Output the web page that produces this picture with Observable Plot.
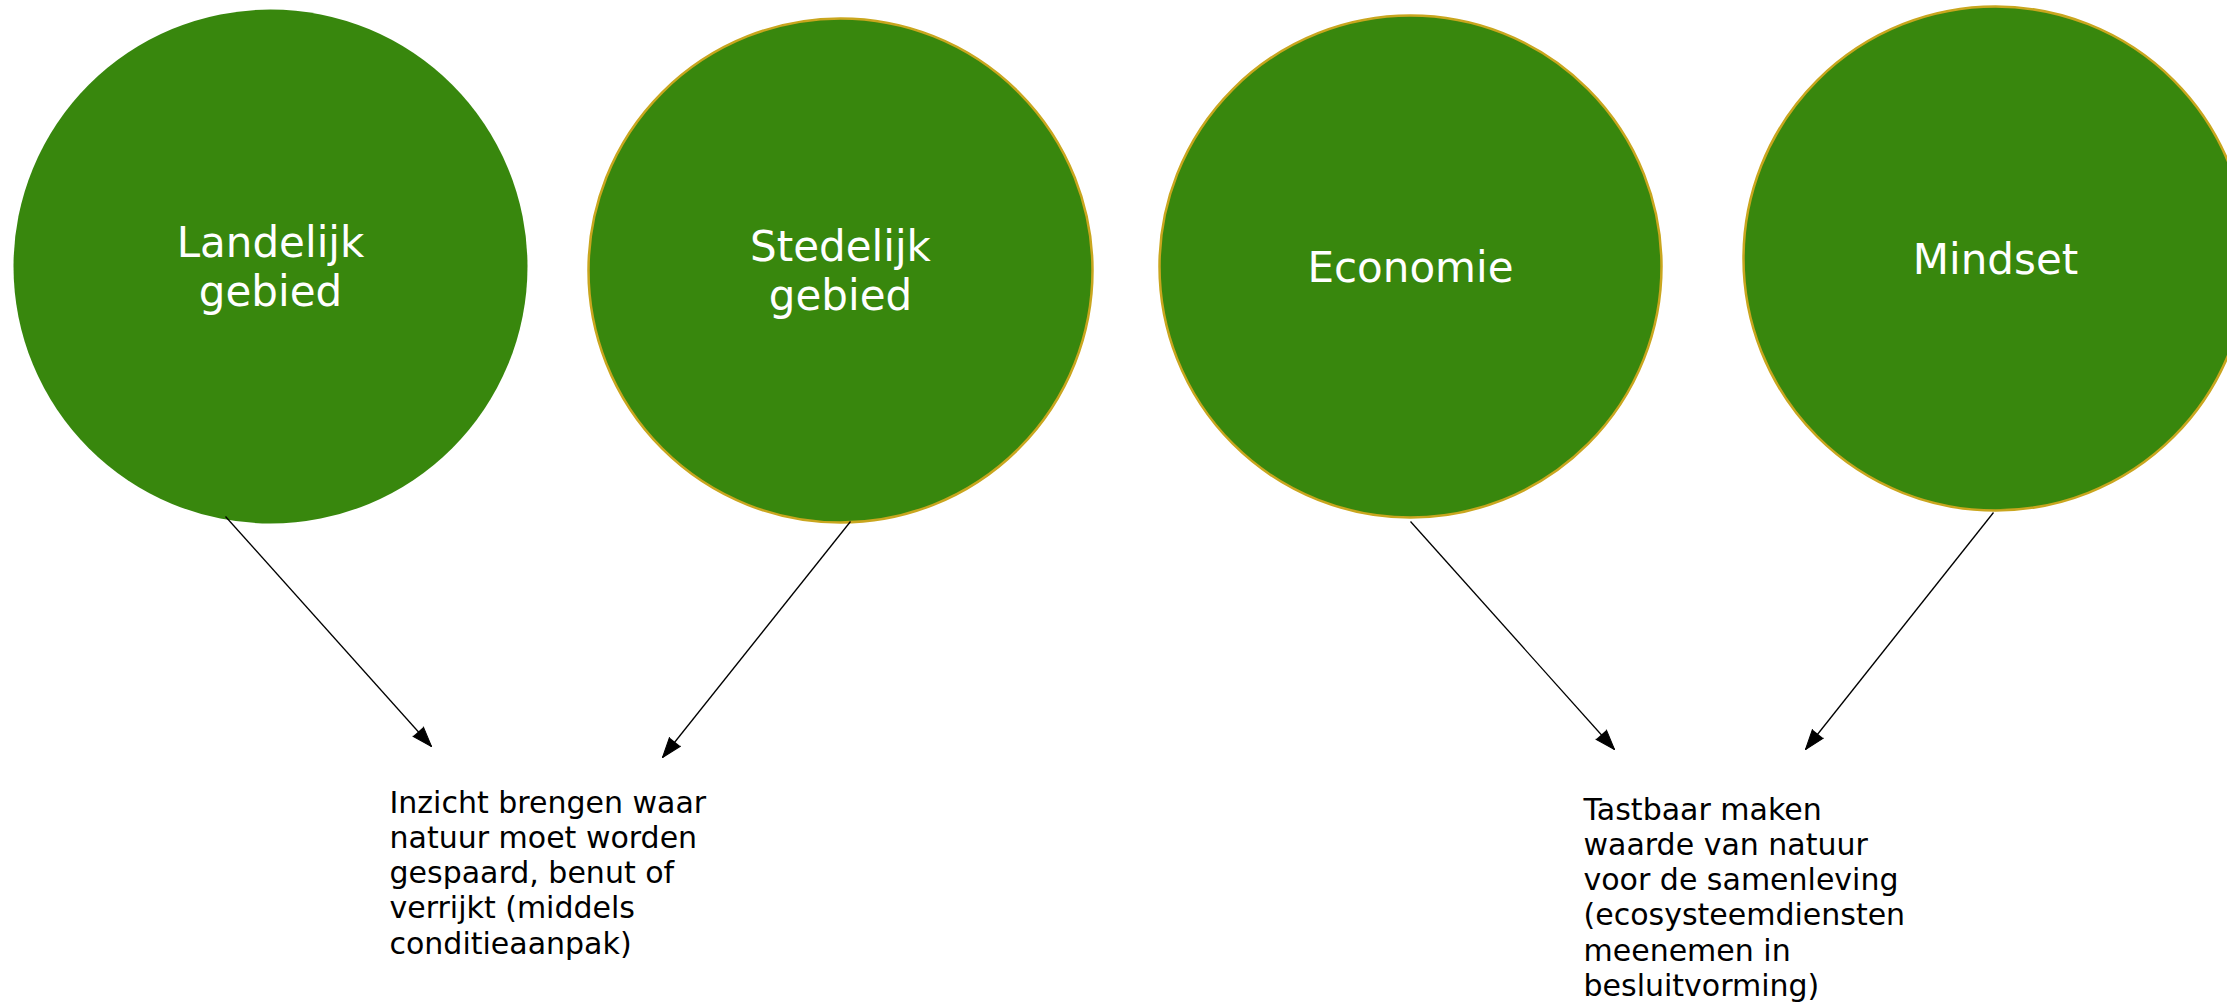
<!DOCTYPE html>
<html>
<head>
<meta charset="utf-8">
<script src="https://cdn.jsdelivr.net/npm/d3@7"></script>
<script src="https://cdn.jsdelivr.net/npm/@observablehq/plot@0.6"></script>
<style>
  html, body { margin: 0; padding: 0; background: #ffffff; overflow: hidden; }
  #chart svg { display: block; }
</style>
</head>
<body>
<div id="chart"></div>
<script>
// Diagram data (in a 2227 x 1003 coordinate space)
const topics = ["Landelijk\ngebied", "Stedelijk\ngebied", "Economie", "Mindset"];
const topicX = [270, 840, 1410, 1995];
const topicY = [266, 270, 266, 258];
const topicR = [257, 252, 251, 252];
const topicOutlined = [false, true, true, true];

const arrowFromX = [225, 850, 1410, 1993];
const arrowFromY = [516, 521, 521, 512];
const arrowToX = [431, 662, 1614, 1805];
const arrowToY = [746, 757, 749, 749];

const notes = [
  "Inzicht brengen waar\nnatuur moet worden\ngespaard, benut of\nverrijkt (middels\nconditieaanpak)",
  "Tastbaar maken\nwaarde van natuur\nvoor de samenleving\n(ecosysteemdiensten\nmeenemen in\nbesluitvorming)"
];
const noteX = [389, 1583];
const noteBaselineY = [809, 816];

const W = 2227, H = 1003;
const green = "#38870d";
const gold = "#c9a61e";
const noteSize = 30;

const circles = topics.map((t, i) => ({label: t, x: topicX[i], y: topicY[i], r: topicR[i], outlined: topicOutlined[i]}));
const arrows = arrowFromX.map((x1, i) => {
  const x2 = arrowToX[i], y2 = arrowToY[i], y1 = arrowFromY[i];
  const ang = Math.atan2(x2 - x1, -(y2 - y1)) * 180 / Math.PI;
  return {x1, y1, x2, y2, angle: ang};
});
const noteData = notes.map((n, i) => ({text: n, x: noteX[i], y: noteBaselineY[i] - 0.71 * noteSize}));

const chart = Plot.plot({
  width: W,
  height: H,
  margin: 0,
  x: {domain: [0, W], range: [0, W], axis: null},
  y: {domain: [0, H], range: [0, H], axis: null},
  r: {type: "identity"},
  style: {fontFamily: "DejaVu Sans, Verdana, sans-serif", background: "#ffffff", overflow: "hidden"},
  marks: [
    Plot.dot(circles.filter(d => !d.outlined), {x: "x", y: "y", r: "r", fill: green, stroke: "none"}),
    Plot.dot(circles.filter(d => d.outlined), {x: "x", y: "y", r: "r", fill: green, stroke: gold, strokeWidth: 2.5}),
    Plot.text(circles, {x: "x", y: "y", text: "label", dy: -1, fill: "#ffffff", fontSize: 42, lineHeight: 1.19, textAnchor: "middle", lineAnchor: "middle"}),
    Plot.link(arrows, {x1: "x1", y1: "y1", x2: "x2", y2: "y2", stroke: "#000000", strokeWidth: 1.3}),
    Plot.vector(arrows, {x: "x2", y: "y2", rotate: "angle", length: 20, shape: "spike", r: 7, anchor: "end", fill: "#000000", stroke: "#000000", strokeWidth: 1}),
    Plot.text(noteData, {x: "x", y: "y", text: "text", fill: "#000000", fontSize: noteSize, lineHeight: 1.17, textAnchor: "start", lineAnchor: "top"})
  ]
});
document.getElementById("chart").appendChild(chart);
</script>
</body>
</html>
